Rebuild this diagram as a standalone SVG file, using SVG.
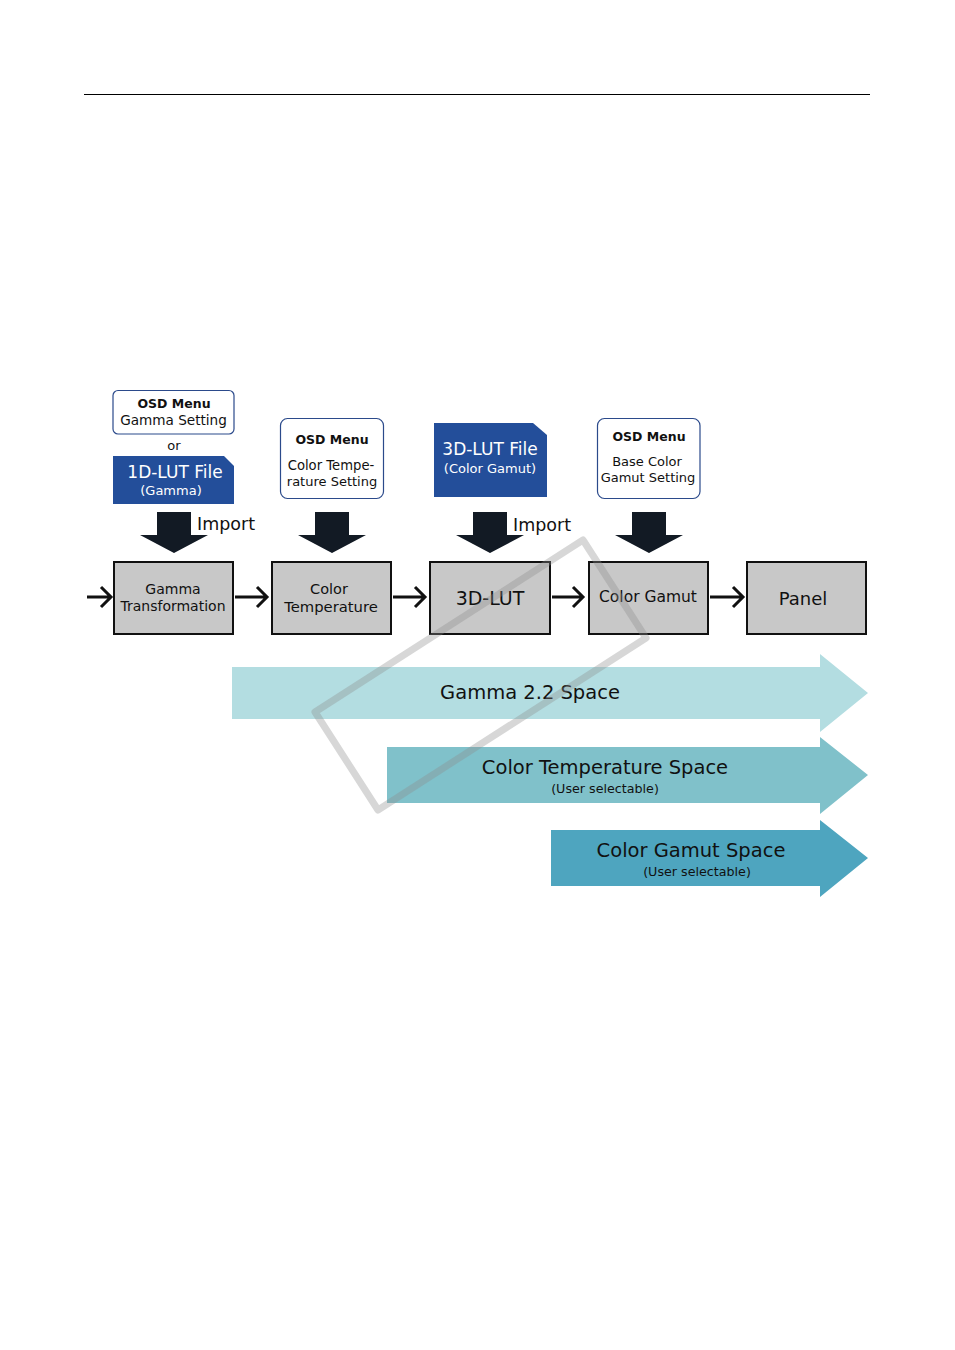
<svg xmlns="http://www.w3.org/2000/svg" width="955" height="1350" viewBox="0 0 955 1350">
<style>
text{font-family:"DejaVu Sans","Liberation Sans",sans-serif;fill:#111}
.osd{fill:#fff;stroke:#2b4a8b;stroke-width:1.2}
.lut{fill:#234e9a}
.wt{fill:#fff}
.b{font-weight:bold}
.box{fill:#c8c8c8;stroke:#111;stroke-width:2}
.dn{fill:#121a24}
.con{fill:none;stroke:#111;stroke-width:3}
</style>
<line x1="84" y1="94.5" x2="870" y2="94.5" stroke="#000" stroke-width="1.2"/>

<g id="osd-gamma">
<rect class="osd" x="113" y="390.5" width="121" height="43.5" rx="5"/>
<text class="b" x="174" y="408" font-size="12.5" text-anchor="middle">OSD Menu</text>
<text x="173.5" y="425" font-size="13.6" text-anchor="middle">Gamma Setting</text>
</g>
<text id="or" x="174" y="450" font-size="13" text-anchor="middle">or</text>
<g id="lut1d">
<path class="lut" d="M113,456 H224 L234,466 V504 H113 Z"/>
<text class="wt" x="175" y="478" font-size="17" text-anchor="middle">1D-LUT File</text>
<text class="wt" x="171" y="495" font-size="13" text-anchor="middle">(Gamma)</text>
</g>
<g id="osd-ct">
<rect class="osd" x="280.5" y="418.5" width="103" height="80" rx="7"/>
<text class="b" x="332" y="444" font-size="12.5" text-anchor="middle">OSD Menu</text>
<text x="331" y="470" font-size="13.2" text-anchor="middle">Color Tempe-</text>
<text x="332" y="486" font-size="13" text-anchor="middle">rature Setting</text>
</g>
<g id="lut3d">
<path class="lut" d="M434,423 H533 L547,435 V497 H434 Z"/>
<text class="wt" x="490" y="455" font-size="17" text-anchor="middle">3D-LUT File</text>
<text class="wt" x="490" y="473" font-size="13" text-anchor="middle">(Color Gamut)</text>
</g>
<g id="osd-gamut">
<rect class="osd" x="597.5" y="418.5" width="102.5" height="80" rx="7"/>
<text class="b" x="649" y="441" font-size="12.5" text-anchor="middle">OSD Menu</text>
<text x="647" y="466" font-size="13" text-anchor="middle">Base Color</text>
<text x="648" y="482" font-size="13" text-anchor="middle">Gamut Setting</text>
</g>

<g id="down-arrows">
<path class="dn" d="M157,512 H191 V535 H208 L174,553 L140,535 H157 Z"/>
<path class="dn" d="M315,512 H349 V535 H366 L332,553 L298,535 H315 Z"/>
<path class="dn" d="M473,512 H507 V535 H524 L490,553 L456,535 H473 Z"/>
<path class="dn" d="M632,512 H666 V535 H683 L649,553 L615,535 H632 Z"/>
<text x="197" y="530" font-size="17.5">Import</text>
<text x="513" y="531" font-size="17.5">Import</text>
</g>

<g id="gamma-transformation">
<rect class="box" x="114" y="562" width="119" height="72"/>
<text x="173" y="594" font-size="14" text-anchor="middle">Gamma</text>
<text x="173" y="611" font-size="14" text-anchor="middle">Transformation</text>
</g>
<g id="color-temperature">
<rect class="box" x="272" y="562" width="119" height="72"/>
<text x="329" y="594" font-size="14.5" text-anchor="middle">Color</text>
<text x="331" y="612" font-size="14.8" text-anchor="middle">Temperature</text>
</g>
<g id="lut3d-node">
<rect class="box" x="430" y="562" width="120" height="72"/>
<text x="490" y="605" font-size="19" text-anchor="middle">3D-LUT</text>
</g>
<g id="color-gamut">
<rect class="box" x="589" y="562" width="119" height="72"/>
<text x="648" y="602" font-size="15.5" text-anchor="middle">Color Gamut</text>
</g>
<g id="panel">
<rect class="box" x="747" y="562" width="119" height="72"/>
<text x="803" y="605" font-size="18" text-anchor="middle">Panel</text>
</g>

<g id="connectors">
<path class="con" d="M87,597 H111 M101,587 L111,597 L101,607"/>
<path class="con" d="M235,597 H267 M257,587 L267,597 L257,607"/>
<path class="con" d="M393,597 H425 M415,587 L425,597 L415,607"/>
<path class="con" d="M552,597 H583 M573,587 L583,597 L573,607"/>
<path class="con" d="M710,597 H743 M733,587 L743,597 L733,607"/>
</g>

<g id="gamma-space">
<path fill="#b3dde1" d="M232,667 H820 V654 L868,693 L820,732 V719 H232 Z"/>
<text x="530" y="699" font-size="19.5" text-anchor="middle">Gamma 2.2 Space</text>
</g>
<g id="ct-space">
<path fill="#80c1ca" d="M387,747 H820 V737 L868,775 L820,814 V803 H387 Z"/>
<text x="605" y="774" font-size="19.5" text-anchor="middle">Color Temperature Space</text>
<text x="605" y="793" font-size="12.7" text-anchor="middle">(User selectable)</text>
</g>
<g id="gamut-space">
<path fill="#4ea5bf" d="M551,830 H820 V820 L868,858 L820,897 V886 H551 Z"/>
<text x="691" y="857" font-size="19.5" text-anchor="middle">Color Gamut Space</text>
<text x="697" y="876" font-size="12.7" text-anchor="middle">(User selectable)</text>
</g>

<path id="watermark" d="M315,712 L583,540 L646,638 L378,810 Z" fill="none" stroke="#8c8c8c" stroke-opacity="0.35" stroke-width="7" stroke-linejoin="round"/>
</svg>
